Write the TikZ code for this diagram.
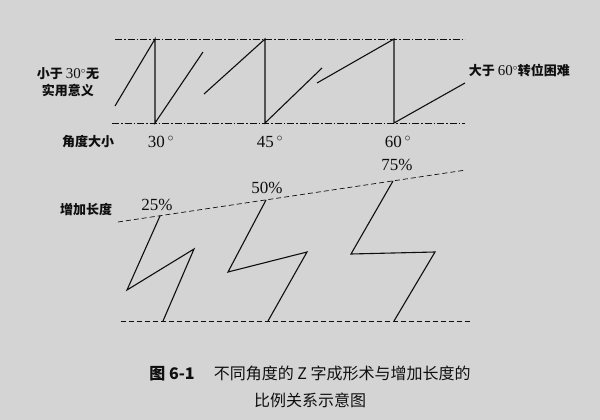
\documentclass[tikz,border=0pt]{standalone}
\usepackage{fontspec}
\setmainfont{Liberation Serif}
\newfontfamily\cjk{Noto Sans CJK SC}
\usetikzlibrary{positioning}
\definecolor{paper}{RGB}{212,212,212}
\definecolor{ink}{RGB}{15,15,15}

\begin{document}
\begin{tikzpicture}[x=1pt, y=-1pt, line width=1.1pt, draw=ink,
    guide/.style={line width=0.7pt, dash pattern=on 7pt off 2pt on 1.5pt off 2pt},
    lenline/.style={line width=0.7pt, dash pattern=on 5pt off 3pt},
    lbl/.style={text=ink, font=\cjk\bfseries\fontsize{13}{17}\selectfont, align=center},
    num/.style={text=ink, font=\fontsize{17}{19}\selectfont, inner sep=0pt}]
    \fill[paper] (0,0) rectangle (600,420);

    % Top: angle
    \draw[guide] (115,39) -- (465,39);
    \draw[guide] (112,123) -- (465,123);

    \coordinate (t30) at (155,39);  \coordinate (b30) at (155,123);
    \coordinate (t45) at (265,39);  \coordinate (b45) at (265,123);
    \coordinate (t60) at (394,39);  \coordinate (b60) at (394,123);

    \draw (115,106) -- (t30) -- (b30) -- (203,52);
    \draw (204,94) -- (t45) -- (b45) -- (322,68);
    \draw (317,83) -- (t60) -- (b60) -- (465,83);

    \node[lbl] (useless) at (68,82) {小于 {\rmfamily\mdseries\fontsize{15}{17}\selectfont 30}$^{\circ}$无\\实用意义};
    \node[lbl] (angle) at (88,142) {角度大小};
    \node[lbl, anchor=west] (hard) at (465,70) {大于 {\rmfamily\mdseries\fontsize{15}{17}\selectfont 60}$^{\circ}$转位困难};

    \node[num] (d30) at (161,142) {30\,$^{\circ}$};
    \node[num] (d45) at (270,142) {45\,$^{\circ}$};
    \node[num] (d60) at (398,142) {60\,$^{\circ}$};

    % Bottom: length
    \draw[lenline] (118,222) -- (466,170);
    \draw[lenline] (121,321) -- (470,321);

    \coordinate (z25) at (160,216);
    \coordinate (z50) at (266,200);
    \coordinate (z75) at (393,181);

    \draw (z25) -- (127,290) -- (194,249) -- (163,321);
    \draw (z50) -- (228,272) -- (307,252) -- (268,321);
    \draw (z75) -- (351,254) -- (435,252) -- (394,321);

    \node[lbl] (gain) at (86,210) {增加长度};
    \node[num] (p25) at (157,205) {25\%};
    \node[num] (p50) at (267,188) {50\%};
    \node[num] (p75) at (397,165) {75\%};

    % Caption
    \node[text=ink, font=\cjk\fontsize{16}{20}\selectfont] (cap1) at (310,373)
        {\textbf{图 6-1}\hspace{1.2em}不同角度的 Z 字成形术与增加长度的};
    \node[text=ink, font=\cjk\fontsize{16}{20}\selectfont] (cap2) at (310,400) {比例关系示意图};
\end{tikzpicture}
\end{document}
